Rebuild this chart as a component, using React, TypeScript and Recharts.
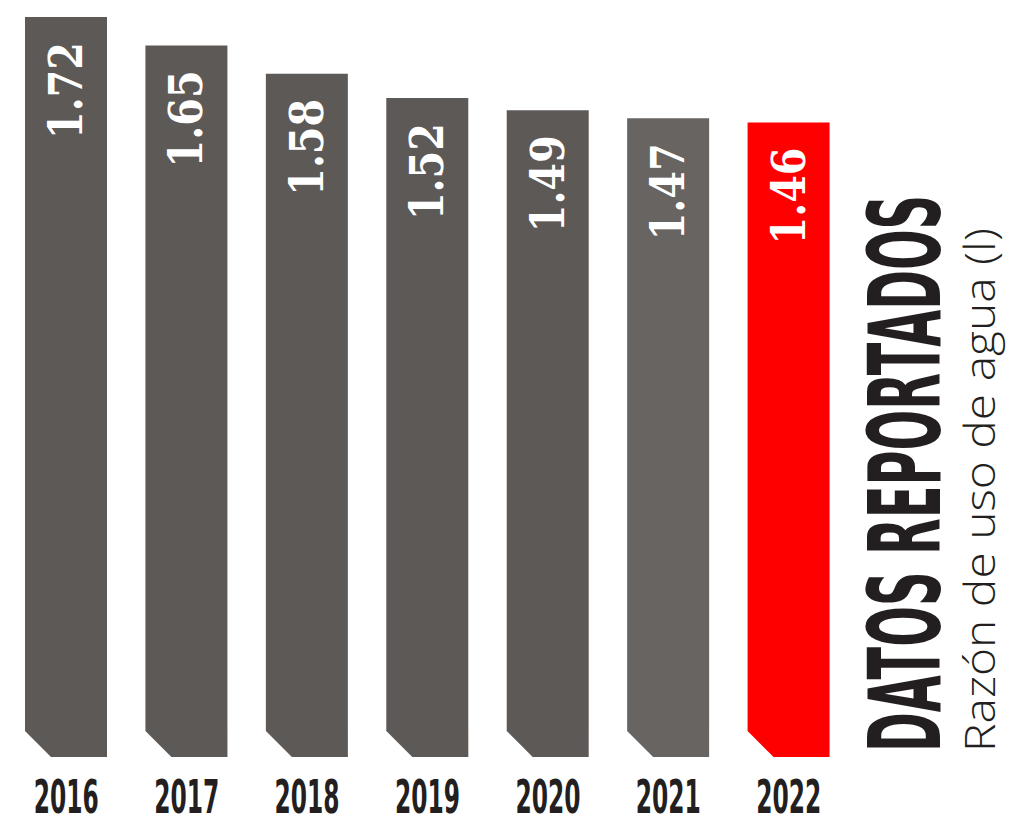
import React from 'react';
import { BarChart, Bar, XAxis, YAxis, Cell, LabelList, Customized } from 'recharts';

const years = ['2016', '2017', '2018', '2019', '2020', '2021', '2022'];
const values = [1.72, 1.65, 1.58, 1.52, 1.49, 1.47, 1.46];
const title = 'DATOS REPORTADOS';
const subtitle = 'Razón de uso de agua (l)';

const COLORS = ['#5d5957', '#5d5957', '#5d5957', '#5d5957', '#5d5957', '#686462', '#ff0000'];

const W = 1009;
const H = 819;
const MARGIN = { top: 17, right: 160, bottom: 0, left: 6 };
const XAXIS_H = 62;
const PLOT_BOTTOM = H - MARGIN.bottom - XAXIS_H;
const CHAMFER = 26;

const data = years.map((y, i) => ({ year: y, value: values[i] }));

const BarShape = (props: any) => {
  const { x, y, width, fill } = props;
  const b = PLOT_BOTTOM;
  const d = `M${x},${y} L${x + width},${y} L${x + width},${b} L${x + CHAMFER},${b} L${x},${b - CHAMFER} Z`;
  return <path d={d} fill={fill} />;
};

const ValueLabel = (props: any) => {
  const { x, y, width, value } = props;
  const cx = x + width / 2;
  const ty = y + 25;
  return (
    <text
      x={cx}
      y={ty}
      transform={`rotate(-90, ${cx}, ${ty})`}
      textAnchor="end"
      dominantBaseline="central"
      fill="#ffffff"
      fontFamily="'DejaVu Serif', serif"
      fontWeight="bold"
      fontSize={46}
      textLength={97}
      lengthAdjust="spacingAndGlyphs"
    >
      {Number(value).toFixed(2)}
    </text>
  );
};

const YearTick = (props: any) => {
  const { x, y, payload } = props;
  return (
    <text
      x={x}
      y={y + 48}
      textAnchor="middle"
      fill="#231f20"
      fontFamily="'DejaVu Sans Condensed', 'DejaVu Sans', sans-serif"
      fontWeight="bold"
      fontSize={47}
      textLength={65}
      lengthAdjust="spacingAndGlyphs"
    >
      {payload.value}
    </text>
  );
};

const Titles = () => (
  <g>
    <text
      x={940}
      y={752}
      transform="rotate(-90, 940, 752)"
      textAnchor="start"
      fill="#231f20"
      fontFamily="'DejaVu Sans Condensed', 'DejaVu Sans', sans-serif"
      fontWeight="bold"
      fontSize={100}
      textLength={557}
      lengthAdjust="spacingAndGlyphs"
    >
      {title}
    </text>
    <text
      x={995}
      y={752}
      transform="rotate(-90, 995, 752)"
      textAnchor="start"
      fill="#231f20"
      fontFamily="'Open Sans', sans-serif"
      fontWeight={300}
      fontSize={42}
      textLength={524}
      lengthAdjust="spacingAndGlyphs"
    >
      {subtitle}
    </text>
  </g>
);

export default function App() {
  return (
    <div style={{ position: 'absolute', left: 0, top: 0, width: W, height: H, background: '#ffffff' }}>
      <BarChart width={W} height={H} data={data} margin={MARGIN} barCategoryGap={0}>
        <XAxis
          dataKey="year"
          axisLine={false}
          tickLine={false}
          height={XAXIS_H}
          tick={<YearTick />}
          interval={0}
        />
        <YAxis hide domain={[-0.105, 1.72]} allowDataOverflow />
        <Bar dataKey="value" barSize={82} shape={<BarShape />} isAnimationActive={false}>
          {data.map((d, i) => (
            <Cell key={d.year} fill={COLORS[i]} />
          ))}
          <LabelList dataKey="value" content={<ValueLabel />} />
        </Bar>
        <Customized component={Titles} />
      </BarChart>
    </div>
  );
}
